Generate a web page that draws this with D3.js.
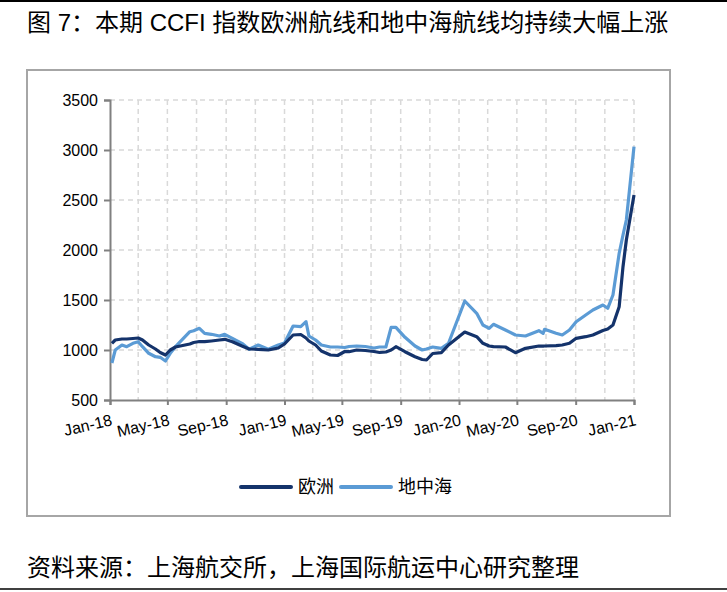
<!DOCTYPE html>
<html>
<head>
<meta charset="utf-8">
<script src="https://cdn.jsdelivr.net/npm/d3@7"></script>
<style>
body { margin: 0; background: #fff; }
svg text { font-family: "Liberation Sans", Arial, "Noto Sans CJK SC", sans-serif; fill: #000; }
</style>
</head>
<body>
<svg id="chart" width="727" height="592"></svg>
<script>
// weekly CCFI readings
var dates = ["2018-01-05","2018-01-12","2018-01-26","2018-02-05","2018-02-18","2018-03-01","2018-03-10","2018-03-23",
  "2018-04-06","2018-04-16","2018-04-27","2018-05-07","2018-05-18","2018-06-07","2018-06-17","2018-06-25",
  "2018-07-07","2018-07-18","2018-08-01","2018-08-18","2018-08-29","2018-09-14","2018-10-04","2018-10-19",
  "2018-11-07","2018-11-28","2018-12-19","2019-01-01","2019-01-19","2019-02-04","2019-02-15","2019-02-21",
  "2019-03-07","2019-03-19","2019-04-07","2019-04-22","2019-05-07","2019-05-16","2019-06-01","2019-06-19",
  "2019-07-07","2019-07-19","2019-08-01","2019-08-12","2019-08-22","2019-09-10","2019-10-01","2019-10-16",
  "2019-10-25","2019-11-07","2019-11-25","2019-12-10","2020-01-13","2020-02-07","2020-02-20","2020-03-04",
  "2020-03-13","2020-04-07","2020-04-28","2020-05-19","2020-06-16","2020-06-25","2020-06-28","2020-07-22",
  "2020-08-04","2020-08-19","2020-09-02","2020-09-22","2020-10-07","2020-10-28","2020-11-07","2020-11-18",
  "2020-12-01","2020-12-09","2020-12-16","2021-01-01"];

var europe = [1067,1100,1110,1110,1115,1120,1100,1050,
  1010,975,950,1000,1030,1050,1060,1075,
  1085,1083,1090,1100,1107,1083,1040,1010,
  1007,1000,1020,1060,1150,1155,1120,1090,
  1050,990,950,945,985,983,1000,995,
  985,975,980,1000,1033,983,933,905,
  900,965,973,1050,1180,1133,1067,1040,
  1033,1030,973,1017,1040,1038,1040,1043,
  1050,1067,1117,1133,1150,1195,1210,1250,
  1433,1833,2100,2550];

var mediterranean = [870,1000,1050,1033,1067,1083,1033,967,
  933,927,890,967,1033,1133,1183,1193,
  1217,1167,1157,1140,1157,1117,1067,1007,
  1050,1007,1050,1070,1240,1233,1283,1140,
  1100,1050,1030,1030,1025,1035,1040,1035,
  1020,1030,1030,1227,1227,1127,1040,1000,
  1010,1030,1017,1067,1490,1367,1250,1217,
  1257,1200,1150,1140,1193,1167,1207,1167,
  1150,1200,1283,1350,1400,1450,1417,1550,
  1967,2150,2300,3033];

var yTicks = [500,1000,1500,2000,2500,3000,3500];
var seriesNames = ["欧洲","地中海"];
var seriesColors = ["#14336b","#5b9bd5"];

var parse = d3.timeParse("%Y-%m-%d");
var fmt = d3.timeFormat("%b-%y");

var svg = d3.select("#chart");

// frame lines and titles
svg.append("line").attr("x1",0).attr("x2",727).attr("y1",1).attr("y2",1)
  .style("stroke","#000").style("stroke-width",2);
svg.append("line").attr("x1",0).attr("x2",727).attr("y1",589).attr("y2",589)
  .style("stroke","#000").style("stroke-width",1.5);
svg.append("text").attr("x",27).attr("y",31)
  .style("font-size","24px")
  .text("图 7：本期 CCFI 指数欧洲航线和地中海航线均持续大幅上涨");
svg.append("text").attr("x",27).attr("y",576)
  .style("font-size","24px")
  .text("资料来源：上海航交所，上海国际航运中心研究整理");

svg.append("rect").attr("x",27).attr("y",70).attr("width",643).attr("height",446)
  .style("fill","none").style("stroke","#a6a6a6").style("stroke-width",2);

var x = d3.scaleTime()
  .domain([parse("2018-01-01"), parse("2021-01-01")])
  .range([110, 634]);
var y = d3.scaleLinear().domain([500,3500]).range([400,100]);

// grid
var grid = svg.append("g");
grid.selectAll(".hg").data(yTicks.slice(1)).enter().append("line")
  .attr("x1",110).attr("x2",634)
  .attr("y1",function(d){return y(d);}).attr("y2",function(d){return y(d);})
  .style("stroke","#d9d9d9").style("stroke-width",1.5).style("stroke-dasharray","5,4");
grid.selectAll(".vg").data(d3.timeMonth.every(2).range(parse("2018-03-01"), parse("2021-01-02"))).enter().append("line")
  .attr("x1",function(d){return x(d);}).attr("x2",function(d){return x(d);})
  .attr("y1",100).attr("y2",400)
  .style("stroke","#d9d9d9").style("stroke-width",1.5).style("stroke-dasharray","5,4");

// axes
var xTicks = d3.timeMonth.every(4).range(parse("2018-01-01"), parse("2021-01-02"));
var xAxis = svg.append("g").attr("transform","translate(0,400)")
  .call(d3.axisBottom(x).tickValues(xTicks).tickSize(5).tickFormat(""));
xAxis.select(".domain").style("stroke","#808080").style("stroke-width",2);
xAxis.selectAll(".tick line").style("stroke","#808080").style("stroke-width",2);

svg.selectAll(".xl").data(xTicks).enter().append("text")
  .attr("transform",function(d){return "translate("+(x(d)+3)+",425) rotate(-13)";})
  .style("text-anchor","end").style("font-size","16px")
  .text(function(d){return fmt(d);});

var yAxis = svg.append("g").attr("transform","translate(110,0)")
  .call(d3.axisLeft(y).tickValues(yTicks).tickSize(6).tickPadding(6).tickFormat(d3.format("d")));
yAxis.select(".domain").style("stroke","#808080").style("stroke-width",2);
yAxis.selectAll(".tick line").style("stroke","#808080").style("stroke-width",2);
yAxis.selectAll(".tick text").style("font-size","16px").style("fill","#000")
  .style("font-family","'Liberation Sans', Arial, sans-serif");

// lines
var line = d3.line()
  .x(function(d){return x(d.date);})
  .y(function(d){return y(d.v);});

[mediterranean, europe].forEach(function(vals, i){
  var pts = dates.map(function(d, j){return {date: parse(d), v: vals[j]};});
  svg.append("path").datum(pts)
    .attr("d", line)
    .style("fill","none")
    .style("stroke", i === 0 ? seriesColors[1] : seriesColors[0])
    .style("stroke-width",3.2)
    .style("stroke-linejoin","round");
});

// legend
var leg = svg.append("g");
seriesNames.forEach(function(name, i){
  var lx = 241 + i*100;
  leg.append("line").attr("x1",lx).attr("x2",lx+50).attr("y1",487).attr("y2",487)
    .style("stroke",seriesColors[i]).style("stroke-width",4).style("stroke-linecap","round");
  leg.append("text").attr("x",lx+57).attr("y",493)
    .style("font-size","18px").text(name);
});
</script>
</body>
</html>
